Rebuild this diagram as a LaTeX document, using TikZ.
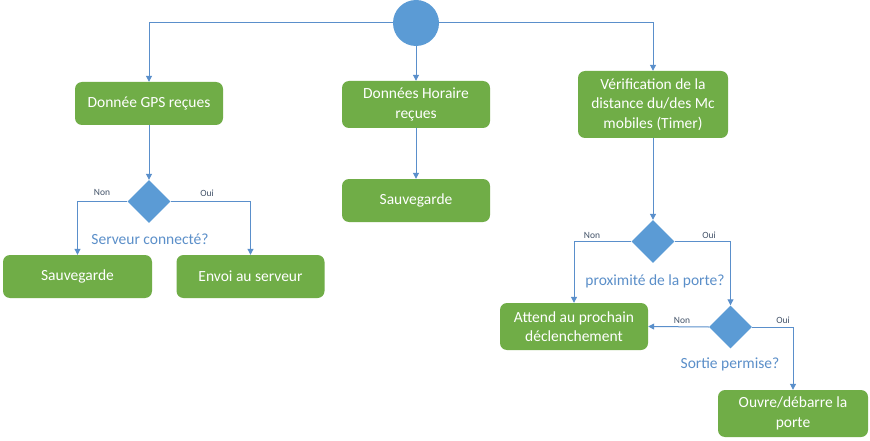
\documentclass[tikz,border=0pt]{standalone}
\usepackage{fontspec}
\setmainfont{Carlito}
\usetikzlibrary{shapes.geometric,arrows.meta}
\definecolor{boxgreen}{HTML}{70AD47}
\definecolor{nodeblue}{HTML}{5B9BD5}
\definecolor{linkblue}{HTML}{5A8FCB}
\definecolor{qblue}{HTML}{5B8FC9}
\definecolor{lblgray}{HTML}{44546A}
\begin{document}
\begin{tikzpicture}[x=1pt,y=-1pt,
  box/.style={draw=none,fill=boxgreen,rounded corners=7pt,text=white,align=center,
    font=\fontsize{15.5}{19.5}\selectfont,inner sep=0pt},
  decision/.style={diamond,fill=nodeblue,draw=none,minimum width=43pt,minimum height=43pt,inner sep=0pt},
  link/.style={draw=linkblue,line width=1pt,-{Triangle[width=6pt,length=6pt]}},
  question/.style={text=qblue,font=\fontsize{15.5}{17}\selectfont,inner sep=0pt},
  branch/.style={text=lblgray,font=\fontsize{9.5}{11}\selectfont,inner sep=0pt}]
\useasboundingbox (0,0) rectangle (870,441);
\fill[white] (0,0) rectangle (870,441);
\node[circle,fill=nodeblue,minimum size=46pt,inner sep=0pt] (start) at (416,23) {};
\node[box,minimum width=148pt,minimum height=43pt] (gps) at (149,103.5) {Donnée GPS reçues};
\node[box,minimum width=148pt,minimum height=47pt] (hor) at (416,104.5) {Données Horaire\\reçues};
\node[box,minimum width=150pt,minimum height=67pt] (verif) at (653,104.5) {Vérification de la\\distance du/des Mc\\mobiles (Timer)};
\node[decision] (d1) at (149,201.5) {};
\node[box,minimum width=149pt,minimum height=43pt] (sav1) at (77.5,276.5) {Sauvegarde};
\node[box,minimum width=148pt,minimum height=43pt] (env) at (250.5,276.5) {Envoi au serveur};
\node[box,minimum width=148pt,minimum height=43pt] (sav2) at (416,200.5) {Sauvegarde};
\node[decision] (d2) at (653,241.5) {};
\node[box,minimum width=148pt,minimum height=47pt] (att) at (574,326.5) {Attend au prochain\\déclenchement};
\node[decision] (d3) at (730.5,327) {};
\node[box,minimum width=150pt,minimum height=47pt] (ouv) at (793,413.5) {Ouvre/débarre la\\porte};
\node[question] (q1) at (150,239.5) {Serveur connecté?};
\node[question] (q2) at (655,281) {proximité de la porte?};
\node[question] (q3) at (730,364) {Sortie permise?};
\node[branch] (n1) at (102,192) {Non};
\node[branch] (o1) at (207,193) {Oui};
\node[branch] (n2) at (592,235) {Non};
\node[branch] (o2) at (709,235) {Oui};
\node[branch] (n3) at (682,320) {Non};
\node[branch] (o3) at (783,320) {Oui};
\draw[link] (start.west) -| (gps.north);
\draw[link] (start.south) -- (hor.north);
\draw[link] (start.east) -| (verif.north);
\draw[link] (gps.south) -- (d1.north);
\draw[link] (hor.south) -- (sav2.north);
\draw[link] (verif.south) -- (d2.north);
\draw[link] (d1.west) -| (sav1.north);
\draw[link] (d1.east) -| (env.north);
\draw[link] (d2.west) -| (att.north);
\draw[link] (d2.east) -| (d3.north);
\draw[link] (d3.west) -- (att.east);
\draw[link] (d3.east) -| (ouv.north);
\end{tikzpicture}
\end{document}
